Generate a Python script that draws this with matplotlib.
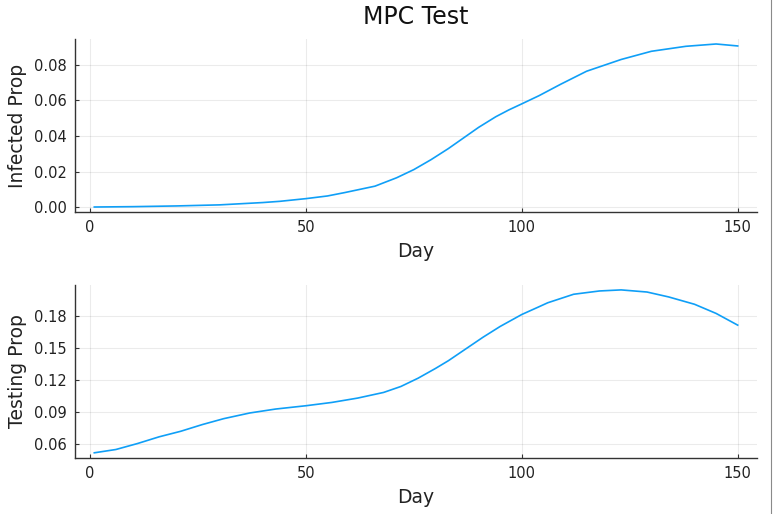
import matplotlib
matplotlib.use("Agg")
import matplotlib.pyplot as plt
from matplotlib.lines import Line2D

# values
infected_days = [1, 10, 20, 30, 40, 44, 50, 55, 59, 66, 71, 75, 79, 83, 86, 90,
                 94, 97, 100, 104, 109, 115, 123, 130, 138, 145, 150]
infected_prop = [0.0001, 0.0003, 0.0007, 0.0013, 0.0026, 0.0033, 0.0048, 0.0063,
                 0.0082, 0.0118, 0.0165, 0.0211, 0.0267, 0.0329, 0.0380, 0.0448,
                 0.0508, 0.0546, 0.0580, 0.0626, 0.0690, 0.0763, 0.0829, 0.0875,
                 0.0903, 0.0916, 0.0905]

testing_days = [1, 6, 11, 16, 21, 26, 31, 37, 43, 50, 56, 62, 68, 72, 76, 80, 83,
                87, 91, 95, 100, 104, 106, 112, 118, 123, 129, 134, 140, 145, 150]
testing_prop = [0.0513, 0.0544, 0.0600, 0.0663, 0.0715, 0.0778, 0.0834, 0.0887,
                0.0924, 0.0955, 0.0986, 0.1027, 0.1080, 0.1136, 0.1214, 0.1305,
                0.1378, 0.1488, 0.1598, 0.1700, 0.1812, 0.1885, 0.1922, 0.2002,
                0.2033, 0.2043, 0.2023, 0.1977, 0.1908, 0.1822, 0.1712]

x_ticks = [0, 50, 100, 150]
infected_ticks = [0.00, 0.02, 0.04, 0.06, 0.08]
testing_ticks = [0.06, 0.09, 0.12, 0.15, 0.18]

line_color = "#0f9ff7"
text_color = "#222222"

fig = plt.figure(figsize=(7.74, 5.14), dpi=100)
ax1 = fig.add_axes([75 / 774, 1 - 212 / 514, 682 / 774, 173 / 514])
ax2 = fig.add_axes([75 / 774, 1 - 457.7 / 514, 682 / 774, 172.7 / 514])


def style(ax, yticks, fmt, ylabel):
    ax.set_xlim(-3.47, 154.47)
    ax.set_xticks(x_ticks)
    ax.set_yticks(yticks)
    ax.set_yticklabels([fmt.format(v) for v in yticks])
    for side in ("top", "right"):
        ax.spines[side].set_visible(False)
    for side in ("left", "bottom"):
        ax.spines[side].set_color("#333333")
        ax.spines[side].set_linewidth(1.0)
    ax.tick_params(direction="in", length=3, width=0.8, color="#333333",
                   labelsize=10.5, labelcolor=text_color, pad=6)
    ax.grid(True, color="#000000", alpha=0.08, linewidth=0.8)
    ax.set_xlabel("Day", fontsize=13.5, color=text_color, labelpad=5)
    ax.set_ylabel(ylabel, fontsize=13.5, color=text_color, labelpad=5)


ax1.plot(infected_days, infected_prop, color=line_color, linewidth=1.2)
ax1.set_ylim(-0.0027, 0.0944)
style(ax1, infected_ticks, "{:.2f}", "Infected Prop")
ax1.set_title("MPC Test", fontsize=17, color="#111111", pad=11)

ax2.plot(testing_days, testing_prop, color=line_color, linewidth=1.2)
ax2.set_ylim(0.0467, 0.2089)
style(ax2, testing_ticks, "{:.2f}", "Testing Prop")

# thin border line at right edge of the screenshot
fig.add_artist(Line2D([770.5 / 774, 770.5 / 774], [0, 1], color="#8a8a8a",
                      linewidth=0.8, transform=fig.transFigure))

fig.savefig("out.png", dpi=100)
